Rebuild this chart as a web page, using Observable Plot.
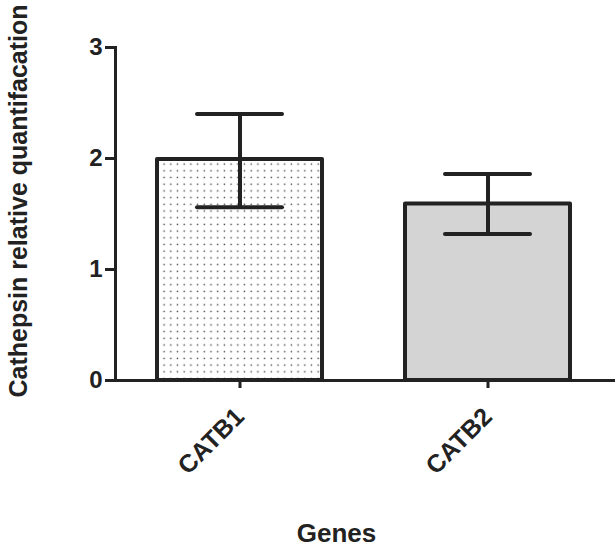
<!DOCTYPE html>
<html>
<head>
<meta charset="utf-8">
<script src="https://cdn.jsdelivr.net/npm/d3@7"></script>
<script src="https://cdn.jsdelivr.net/npm/@observablehq/plot@0.6"></script>
<style>
  html, body { margin: 0; padding: 0; background: white; }
</style>
</head>
<body>
<div id="chart"></div>
<script>
const genes = ["CATB1", "CATB2"];
const means = [1.99, 1.59];
const errLow = [1.56, 1.32];
const errHigh = [2.40, 1.86];
const fills = ["url(#dots)", "#d4d4d4"];
const yTicks = [0, 1, 2, 3];
const yTitle = "Cathepsin relative quantifacation";
const xTitle = "Genes";

const data = genes.map((g, i) => ({gene: g, mean: means[i], lo: errLow[i], hi: errHigh[i], fill: fills[i]}));
const ink = "#222";

const svg = Plot.plot({
  width: 616,
  height: 552,
  marginTop: 47,
  marginBottom: 172,
  marginLeft: 115,
  marginRight: 3,
  style: {fontFamily: "'Liberation Sans', Arial, sans-serif", fontWeight: "bold", fontSize: "22px", color: ink, background: "white"},
  x: {domain: genes, paddingInner: 0.333, paddingOuter: 0.1667, align: 0.5},
  y: {domain: [0, 3]},
  color: {type: "identity"},
  marks: [
    Plot.barY(data, {x: "gene", y: "mean", fill: "fill", stroke: ink, strokeWidth: 4, strokeLinejoin: "round"}),
    Plot.ruleX(data, {x: "gene", y1: "lo", y2: "hi", stroke: ink, strokeWidth: 4}),
    Plot.tickY(data, {x: "gene", y: "lo", inset: 40, stroke: ink, strokeWidth: 4, strokeLinecap: "round"}),
    Plot.tickY(data, {x: "gene", y: "hi", inset: 40, stroke: ink, strokeWidth: 4, strokeLinecap: "round"}),
    Plot.frame({anchor: "left", stroke: ink, strokeWidth: 3}),
    Plot.frame({anchor: "bottom", stroke: ink, strokeWidth: 3}),
    Plot.axisY({ticks: yTicks, tickSize: 10, strokeWidth: 3, text: null, label: null}),
    Plot.text(yTicks, {y: d => d, text: d => String(d), frameAnchor: "left", textAnchor: "end", dx: -13, fontSize: 24, fontWeight: "bold", fill: ink}),
    Plot.axisX({tickSize: 8, tickRotate: -45, fontSize: 25, fontWeight: "bold", strokeWidth: 3, tickPadding: 24, label: null}),
    Plot.text([yTitle], {frameAnchor: "left", textAnchor: "middle", rotate: -90, dx: -97, dy: -13, fontSize: 25, fontWeight: "bold", fill: ink}),
    Plot.text([xTitle], {frameAnchor: "bottom", dx: -28, dy: 161, fontSize: 26, fontWeight: "bold", fill: ink})
  ]
});

const root = d3.select(svg);
const defs = root.insert("defs", ":first-child");
const pat = defs.append("pattern")
  .attr("id", "dots")
  .attr("patternUnits", "userSpaceOnUse")
  .attr("width", 6.7)
  .attr("height", 6.7);
pat.append("rect").attr("width", 6.7).attr("height", 6.7).attr("fill", "white");
pat.append("rect").attr("x", 2.6).attr("y", 2.6).attr("width", 1.4).attr("height", 1.4).attr("fill", "#444");

document.getElementById("chart").appendChild(svg);
</script>
</body>
</html>
